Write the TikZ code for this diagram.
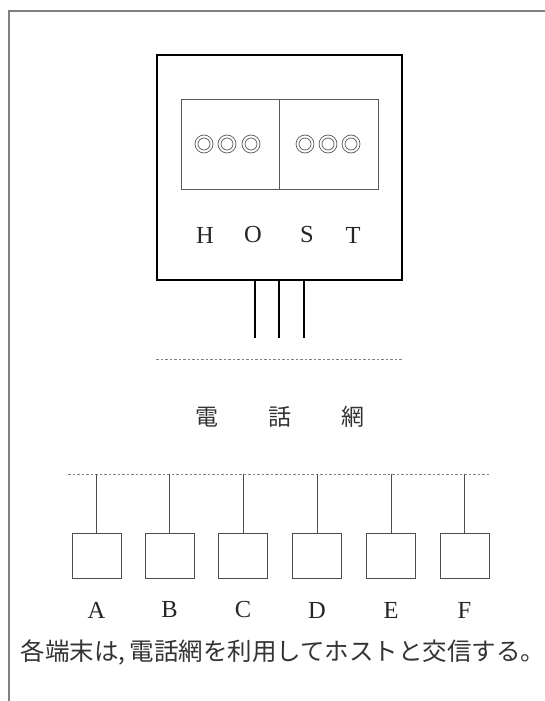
\documentclass[tikz,border=0pt]{standalone}
\usepackage{fontspec}
\newfontfamily\jpfont{Noto Sans CJK JP}
\newfontfamily\seriffont{Liberation Serif}
\usetikzlibrary{positioning}

\tikzset{
  netline/.style={draw=gray, line width=0.8pt, dash pattern=on 2.5pt off 2pt},
  terminal/.style={draw=black!70, line width=1pt, minimum width=49pt, minimum height=45pt, inner sep=0pt},
  panel/.style={draw=black!65, line width=0.9pt, minimum height=90pt, inner sep=0pt},
  letter/.style={text=black!85, font=\seriffont\fontsize{24.5}{24.5}\selectfont},
  kanji/.style={text=black!80, font=\jpfont\fontsize{23}{23}\selectfont}
}

\begin{document}
\begin{tikzpicture}[x=1pt,y=-1pt]
        \useasboundingbox (0,0) rectangle (545,701);
        \draw[gray, line width=1.2pt] (545,11) -- (9,11) -- (9,701);

        \node[draw, line width=2.6pt, minimum width=245pt, minimum height=225pt, inner sep=0pt] (host) at (279.5,167.5) {};
        \node[panel, minimum width=98pt] (panelL) at (230,144) {};
        \node[panel, minimum width=99pt] (panelR) at (328.5,144) {};

        \foreach \x in {204,227,251,305,328,351} {
            \draw[black!65, line width=0.7pt] (\x,144) circle (9pt) (\x,144) circle (6pt);
        }

        \node[letter] (H) at (205,235) {H};
        \node[letter] (O) at (253,235) {O};
        \node[letter] (S) at (307,235) {S};
        \node[letter] (T) at (353,235) {T};

        \foreach \x in {255,279,304} {
            \coordinate (legtop) at (\x,280);
            \coordinate (legend) at (\x,338);
            \draw[line width=2.2pt] (legtop) -- (legend);
        }

        \coordinate (netL) at (156,359);
        \coordinate (netR) at (403,359);
        \draw[netline] (netL) -- (netR);

        \node[kanji] (den) at (207,417) {電};
        \node[kanji] (wa) at (280,417) {話};
        \node[kanji] (mou) at (353,417) {網};

        \coordinate (busL) at (68,474);
        \coordinate (busR) at (490,474);
        \draw[netline] (busL) -- (busR);

        \foreach \n/\x in {A/96.5,B/169.5,C/243,D/317,E/391,F/464.5} {
            \node[terminal] (term\n) at (\x,555.5) {};
            \coordinate (tap\n) at (\x,474);
            \draw[black!70, line width=1pt] (tap\n) -- (term\n.north);
            \node[letter] (lab\n) at (\x,610) {\n};
        }

        \node[kanji, font=\jpfont\fontsize{24.5}{24.5}\selectfont] (caption) at (283,652) {各端末は,\,電話網を利用してホストと交信する。};
    \end{tikzpicture}
\end{document}
